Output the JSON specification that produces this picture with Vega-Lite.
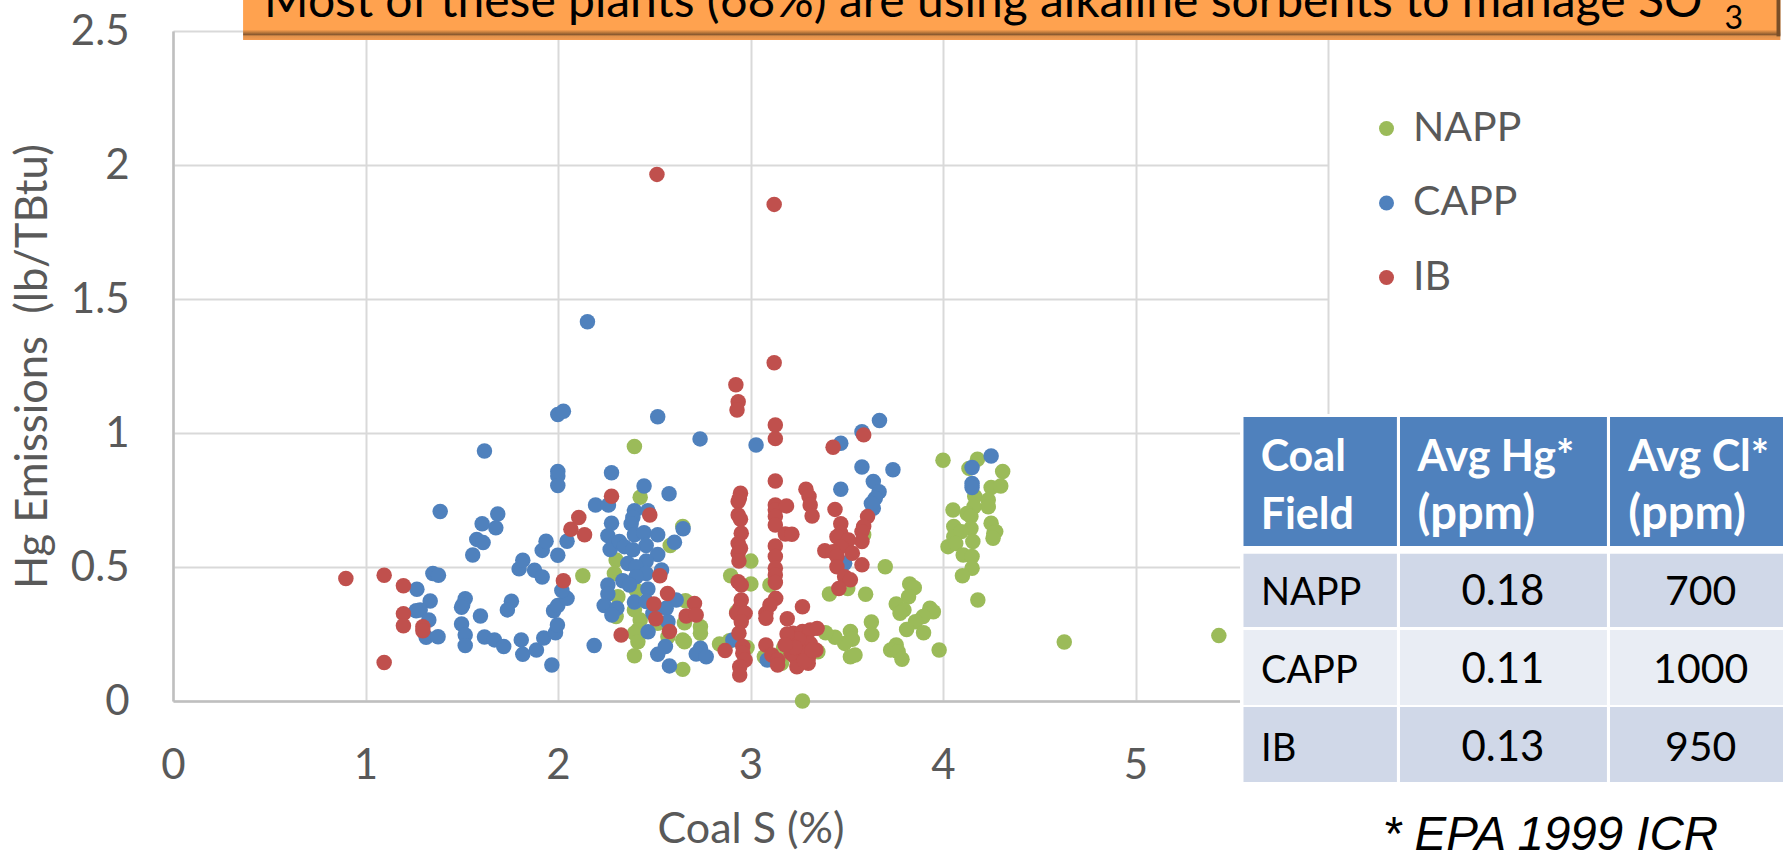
{"$schema":"https://vega.github.io/schema/vega-lite/v6.json","width":1155,"height":670,"autosize":{"type":"none"},"padding":{"left":173,"top":31,"right":455,"bottom":151},"background":"white","config":{"view":{"stroke":null},"font":"Lato"},
"datasets":{"one":[{"k":1}],"points":[
{"f":"NAPP","s":2.397,"hg":0.95},{"f":"NAPP","s":2.427,"hg":0.76},{"f":"NAPP","s":2.648,"hg":0.651},{"f":"NAPP","s":2.583,"hg":0.58},{"f":"NAPP","s":2.129,"hg":0.467},{"f":"NAPP","s":2.302,"hg":0.526},{"f":"NAPP","s":2.293,"hg":0.476},{"f":"NAPP","s":2.406,"hg":0.414},{"f":"NAPP","s":2.311,"hg":0.389},{"f":"NAPP","s":2.302,"hg":0.315},{"f":"NAPP","s":2.397,"hg":0.34},{"f":"NAPP","s":2.427,"hg":0.302},{"f":"NAPP","s":2.662,"hg":0.374},{"f":"NAPP","s":2.657,"hg":0.292},{"f":"NAPP","s":2.74,"hg":0.277},{"f":"NAPP","s":2.74,"hg":0.253},{"f":"NAPP","s":2.415,"hg":0.265},{"f":"NAPP","s":2.397,"hg":0.253},{"f":"NAPP","s":2.415,"hg":0.221},{"f":"NAPP","s":2.518,"hg":0.29},{"f":"NAPP","s":2.571,"hg":0.24},{"f":"NAPP","s":2.648,"hg":0.228},{"f":"NAPP","s":2.657,"hg":0.221},{"f":"NAPP","s":2.397,"hg":0.169},{"f":"NAPP","s":2.648,"hg":0.118},{"f":"NAPP","s":2.839,"hg":0.213},{"f":"NAPP","s":2.891,"hg":0.225},
{"f":"NAPP","s":3.002,"hg":0.522},{"f":"NAPP","s":2.897,"hg":0.467},{"f":"NAPP","s":3.002,"hg":0.437},{"f":"NAPP","s":3.101,"hg":0.433},{"f":"NAPP","s":2.928,"hg":0.332},{"f":"NAPP","s":2.982,"hg":0.2},{"f":"NAPP","s":3.072,"hg":0.165},{"f":"NAPP","s":3.171,"hg":0.197},{"f":"NAPP","s":3.161,"hg":0.141},{"f":"NAPP","s":3.35,"hg":0.184},{"f":"NAPP","s":3.27,"hg":0},{"f":"NAPP","s":4.0,"hg":0.898},{"f":"NAPP","s":4.179,"hg":0.902},{"f":"NAPP","s":4.135,"hg":0.868},{"f":"NAPP","s":4.31,"hg":0.856},{"f":"NAPP","s":4.25,"hg":0.797},{"f":"NAPP","s":4.3,"hg":0.802},{"f":"NAPP","s":4.165,"hg":0.763},{"f":"NAPP","s":4.235,"hg":0.75},{"f":"NAPP","s":4.235,"hg":0.725},{"f":"NAPP","s":4.161,"hg":0.725},{"f":"NAPP","s":4.052,"hg":0.713},{"f":"NAPP","s":4.125,"hg":0.7},{"f":"NAPP","s":4.145,"hg":0.688},{"f":"NAPP","s":4.25,"hg":0.663},{"f":"NAPP","s":4.274,"hg":0.632},{"f":"NAPP","s":4.264,"hg":0.626},{"f":"NAPP","s":4.26,"hg":0.607},{"f":"NAPP","s":4.056,"hg":0.651},{"f":"NAPP","s":4.056,"hg":0.613},{"f":"NAPP","s":4.145,"hg":0.644},{"f":"NAPP","s":4.095,"hg":0.632},{"f":"NAPP","s":4.026,"hg":0.576},{"f":"NAPP","s":4.066,"hg":0.588},{"f":"NAPP","s":4.155,"hg":0.595},{"f":"NAPP","s":4.105,"hg":0.545},{"f":"NAPP","s":4.151,"hg":0.539},{"f":"NAPP","s":4.151,"hg":0.495},{"f":"NAPP","s":4.101,"hg":0.467},{"f":"NAPP","s":3.7,"hg":0.501},{"f":"NAPP","s":3.827,"hg":0.437},{"f":"NAPP","s":3.851,"hg":0.423},{"f":"NAPP","s":3.821,"hg":0.389},{"f":"NAPP","s":3.757,"hg":0.362},{"f":"NAPP","s":3.797,"hg":0.34},{"f":"NAPP","s":3.777,"hg":0.327},{"f":"NAPP","s":3.932,"hg":0.346},{"f":"NAPP","s":3.95,"hg":0.333},{"f":"NAPP","s":3.897,"hg":0.315},{"f":"NAPP","s":3.857,"hg":0.296},{"f":"NAPP","s":3.811,"hg":0.267},{"f":"NAPP","s":3.899,"hg":0.255},{"f":"NAPP","s":3.628,"hg":0.295},{"f":"NAPP","s":3.63,"hg":0.248},{"f":"NAPP","s":3.519,"hg":0.259},{"f":"NAPP","s":3.529,"hg":0.23},{"f":"NAPP","s":3.489,"hg":0.215},{"f":"NAPP","s":3.439,"hg":0.238},{"f":"NAPP","s":3.39,"hg":0.255},{"f":"NAPP","s":3.98,"hg":0.19},{"f":"NAPP","s":3.757,"hg":0.209},{"f":"NAPP","s":3.728,"hg":0.19},{"f":"NAPP","s":3.767,"hg":0.184},{"f":"NAPP","s":3.787,"hg":0.156},{"f":"NAPP","s":3.519,"hg":0.165},{"f":"NAPP","s":3.543,"hg":0.172},{"f":"NAPP","s":3.598,"hg":0.398},{"f":"NAPP","s":3.41,"hg":0.399},{"f":"NAPP","s":3.505,"hg":0.42},{"f":"NAPP","s":3.588,"hg":0.62},{"f":"NAPP","s":4.181,"hg":0.377},{"f":"NAPP","s":4.63,"hg":0.22},{"f":"NAPP","s":5.433,"hg":0.244},
{"f":"CAPP","s":2.153,"hg":1.415},{"f":"CAPP","s":1.618,"hg":0.933},{"f":"CAPP","s":1.388,"hg":0.707},{"f":"CAPP","s":1.687,"hg":0.698},{"f":"CAPP","s":1.606,"hg":0.661},{"f":"CAPP","s":1.677,"hg":0.646},{"f":"CAPP","s":1.578,"hg":0.603},{"f":"CAPP","s":1.611,"hg":0.591},{"f":"CAPP","s":1.557,"hg":0.545},{"f":"CAPP","s":1.35,"hg":0.476},{"f":"CAPP","s":1.379,"hg":0.469},{"f":"CAPP","s":1.267,"hg":0.417},{"f":"CAPP","s":1.336,"hg":0.373},{"f":"CAPP","s":1.284,"hg":0.34},{"f":"CAPP","s":1.263,"hg":0.337},{"f":"CAPP","s":1.329,"hg":0.302},{"f":"CAPP","s":1.315,"hg":0.238},{"f":"CAPP","s":1.377,"hg":0.24},{"f":"CAPP","s":1.518,"hg":0.382},{"f":"CAPP","s":1.505,"hg":0.358},{"f":"CAPP","s":1.499,"hg":0.35},{"f":"CAPP","s":1.597,"hg":0.317},{"f":"CAPP","s":1.499,"hg":0.287},{"f":"CAPP","s":1.518,"hg":0.246},{"f":"CAPP","s":1.518,"hg":0.207},{"f":"CAPP","s":1.618,"hg":0.239},{"f":"CAPP","s":1.67,"hg":0.228},{"f":"CAPP","s":1.718,"hg":0.203},{"f":"CAPP","s":1.758,"hg":0.372},{"f":"CAPP","s":1.737,"hg":0.34},{"f":"CAPP","s":1.809,"hg":0.228},{"f":"CAPP","s":1.817,"hg":0.174},{"f":"CAPP","s":1.888,"hg":0.19},{"f":"CAPP","s":1.926,"hg":0.235},{"f":"CAPP","s":1.968,"hg":0.134},{"f":"CAPP","s":1.987,"hg":0.255},{"f":"CAPP","s":1.997,"hg":0.284},{"f":"CAPP","s":1.977,"hg":0.337},{"f":"CAPP","s":1.999,"hg":0.356},{"f":"CAPP","s":2.047,"hg":0.383},{"f":"CAPP","s":2.02,"hg":0.412},{"f":"CAPP","s":1.798,"hg":0.493},{"f":"CAPP","s":1.817,"hg":0.525},{"f":"CAPP","s":1.878,"hg":0.488},{"f":"CAPP","s":1.918,"hg":0.463},{"f":"CAPP","s":1.918,"hg":0.562},{"f":"CAPP","s":1.938,"hg":0.596},{"f":"CAPP","s":1.999,"hg":0.544},{"f":"CAPP","s":2.047,"hg":0.596},{"f":"CAPP","s":1.999,"hg":0.856},{"f":"CAPP","s":1.999,"hg":0.84},{"f":"CAPP","s":1.999,"hg":0.804},{"f":"CAPP","s":1.999,"hg":1.069},{"f":"CAPP","s":2.028,"hg":1.081},{"f":"CAPP","s":2.518,"hg":1.061},{"f":"CAPP","s":2.738,"hg":0.978},{"f":"CAPP","s":3.029,"hg":0.955},{"f":"CAPP","s":2.188,"hg":0.207},{"f":"CAPP","s":2.278,"hg":0.852},{"f":"CAPP","s":2.195,"hg":0.731},{"f":"CAPP","s":2.262,"hg":0.731},{"f":"CAPP","s":2.447,"hg":0.802},{"f":"CAPP","s":2.577,"hg":0.773},{"f":"CAPP","s":2.397,"hg":0.71},{"f":"CAPP","s":2.467,"hg":0.71},{"f":"CAPP","s":2.389,"hg":0.685},{"f":"CAPP","s":2.38,"hg":0.661},{"f":"CAPP","s":2.278,"hg":0.663},{"f":"CAPP","s":2.259,"hg":0.617},{"f":"CAPP","s":2.293,"hg":0.588},{"f":"CAPP","s":2.271,"hg":0.565},{"f":"CAPP","s":2.319,"hg":0.595},{"f":"CAPP","s":2.345,"hg":0.576},{"f":"CAPP","s":2.397,"hg":0.62},{"f":"CAPP","s":2.447,"hg":0.628},{"f":"CAPP","s":2.518,"hg":0.62},{"f":"CAPP","s":2.605,"hg":0.592},{"f":"CAPP","s":2.65,"hg":0.643},{"f":"CAPP","s":2.458,"hg":0.58},{"f":"CAPP","s":2.389,"hg":0.564},{"f":"CAPP","s":2.518,"hg":0.547},{"f":"CAPP","s":2.458,"hg":0.522},{"f":"CAPP","s":2.363,"hg":0.513},{"f":"CAPP","s":2.406,"hg":0.501},{"f":"CAPP","s":2.538,"hg":0.489},{"f":"CAPP","s":2.458,"hg":0.476},{"f":"CAPP","s":2.406,"hg":0.464},{"f":"CAPP","s":2.337,"hg":0.449},{"f":"CAPP","s":2.371,"hg":0.433},{"f":"CAPP","s":2.467,"hg":0.418},{"f":"CAPP","s":2.259,"hg":0.433},{"f":"CAPP","s":2.259,"hg":0.399},{"f":"CAPP","s":2.24,"hg":0.356},{"f":"CAPP","s":2.306,"hg":0.346},{"f":"CAPP","s":2.28,"hg":0.321},{"f":"CAPP","s":2.397,"hg":0.369},{"f":"CAPP","s":2.458,"hg":0.371},{"f":"CAPP","s":2.614,"hg":0.377},{"f":"CAPP","s":2.562,"hg":0.346},{"f":"CAPP","s":2.493,"hg":0.327},{"f":"CAPP","s":2.571,"hg":0.296},{"f":"CAPP","s":2.468,"hg":0.258},{"f":"CAPP","s":2.558,"hg":0.203},{"f":"CAPP","s":2.518,"hg":0.174},{"f":"CAPP","s":2.579,"hg":0.131},{"f":"CAPP","s":2.74,"hg":0.197},{"f":"CAPP","s":2.718,"hg":0.175},{"f":"CAPP","s":2.77,"hg":0.165},{"f":"CAPP","s":2.908,"hg":0.228},{"f":"CAPP","s":3.087,"hg":0.153},{"f":"CAPP","s":3.469,"hg":0.962},{"f":"CAPP","s":3.579,"hg":1.005},{"f":"CAPP","s":3.67,"hg":1.047},{"f":"CAPP","s":3.579,"hg":0.873},{"f":"CAPP","s":3.74,"hg":0.863},{"f":"CAPP","s":3.638,"hg":0.819},{"f":"CAPP","s":3.668,"hg":0.781},{"f":"CAPP","s":3.648,"hg":0.756},{"f":"CAPP","s":3.638,"hg":0.719},{"f":"CAPP","s":3.628,"hg":0.737},{"f":"CAPP","s":3.469,"hg":0.79},{"f":"CAPP","s":4.151,"hg":0.871},{"f":"CAPP","s":4.25,"hg":0.914},{"f":"CAPP","s":4.151,"hg":0.812},{"f":"CAPP","s":4.151,"hg":0.797},{"f":"CAPP","s":3.489,"hg":0.514},
{"f":"IB","s":2.514,"hg":1.965},{"f":"IB","s":3.123,"hg":1.853},{"f":"IB","s":3.123,"hg":1.262},{"f":"IB","s":2.924,"hg":1.18},{"f":"IB","s":0.898,"hg":0.457},{"f":"IB","s":1.097,"hg":0.469},{"f":"IB","s":1.197,"hg":0.43},{"f":"IB","s":1.197,"hg":0.326},{"f":"IB","s":1.197,"hg":0.281},{"f":"IB","s":1.298,"hg":0.277},{"f":"IB","s":1.298,"hg":0.262},{"f":"IB","s":1.097,"hg":0.144},{"f":"IB","s":2.028,"hg":0.449},{"f":"IB","s":2.108,"hg":0.685},{"f":"IB","s":2.067,"hg":0.641},{"f":"IB","s":2.138,"hg":0.62},{"f":"IB","s":2.278,"hg":0.764},{"f":"IB","s":2.477,"hg":0.694},{"f":"IB","s":2.529,"hg":0.467},{"f":"IB","s":2.569,"hg":0.401},{"f":"IB","s":2.498,"hg":0.362},{"f":"IB","s":2.508,"hg":0.307},{"f":"IB","s":2.328,"hg":0.246},{"f":"IB","s":2.579,"hg":0.259},{"f":"IB","s":2.709,"hg":0.364},{"f":"IB","s":2.666,"hg":0.317},{"f":"IB","s":2.718,"hg":0.321},{"f":"IB","s":2.868,"hg":0.188},{"f":"IB","s":2.936,"hg":1.117},{"f":"IB","s":2.93,"hg":1.086},{"f":"IB","s":2.948,"hg":0.775},{"f":"IB","s":2.942,"hg":0.756},{"f":"IB","s":2.936,"hg":0.744},{"f":"IB","s":2.936,"hg":0.694},{"f":"IB","s":2.948,"hg":0.678},{"f":"IB","s":2.952,"hg":0.626},{"f":"IB","s":2.936,"hg":0.588},{"f":"IB","s":2.948,"hg":0.57},{"f":"IB","s":2.936,"hg":0.551},{"f":"IB","s":2.94,"hg":0.522},{"f":"IB","s":2.936,"hg":0.445},{"f":"IB","s":2.952,"hg":0.433},{"f":"IB","s":2.952,"hg":0.377},{"f":"IB","s":2.944,"hg":0.346},{"f":"IB","s":2.928,"hg":0.327},{"f":"IB","s":2.972,"hg":0.327},{"f":"IB","s":2.952,"hg":0.296},{"f":"IB","s":2.94,"hg":0.253},{"f":"IB","s":2.96,"hg":0.203},{"f":"IB","s":2.96,"hg":0.178},{"f":"IB","s":2.972,"hg":0.153},{"f":"IB","s":2.944,"hg":0.128},{"f":"IB","s":2.944,"hg":0.097},{"f":"IB","s":3.129,"hg":1.03},{"f":"IB","s":3.129,"hg":0.979},{"f":"IB","s":3.129,"hg":0.821},{"f":"IB","s":3.129,"hg":0.731},{"f":"IB","s":3.129,"hg":0.713},{"f":"IB","s":3.187,"hg":0.728},{"f":"IB","s":3.129,"hg":0.688},{"f":"IB","s":3.129,"hg":0.657},{"f":"IB","s":3.181,"hg":0.623},{"f":"IB","s":3.215,"hg":0.622},{"f":"IB","s":3.129,"hg":0.578},{"f":"IB","s":3.129,"hg":0.539},{"f":"IB","s":3.129,"hg":0.495},{"f":"IB","s":3.129,"hg":0.47},{"f":"IB","s":3.129,"hg":0.442},{"f":"IB","s":3.288,"hg":0.79},{"f":"IB","s":3.304,"hg":0.763},{"f":"IB","s":3.31,"hg":0.731},{"f":"IB","s":3.32,"hg":0.69},{"f":"IB","s":3.131,"hg":0.383},{"f":"IB","s":3.101,"hg":0.358},{"f":"IB","s":3.08,"hg":0.327},{"f":"IB","s":3.08,"hg":0.309},{"f":"IB","s":3.191,"hg":0.307},{"f":"IB","s":3.27,"hg":0.352},{"f":"IB","s":3.08,"hg":0.209},{"f":"IB","s":3.111,"hg":0.172},{"f":"IB","s":3.141,"hg":0.153},{"f":"IB","s":3.141,"hg":0.134},{"f":"IB","s":3.221,"hg":0.253},{"f":"IB","s":3.27,"hg":0.259},{"f":"IB","s":3.31,"hg":0.265},{"f":"IB","s":3.346,"hg":0.271},{"f":"IB","s":3.211,"hg":0.228},{"f":"IB","s":3.27,"hg":0.221},{"f":"IB","s":3.211,"hg":0.197},{"f":"IB","s":3.27,"hg":0.197},{"f":"IB","s":3.34,"hg":0.19},{"f":"IB","s":3.231,"hg":0.165},{"f":"IB","s":3.3,"hg":0.159},{"f":"IB","s":3.241,"hg":0.128},{"f":"IB","s":3.3,"hg":0.141},{"f":"IB","s":3.211,"hg":0.178},{"f":"IB","s":3.31,"hg":0.215},{"f":"IB","s":3.25,"hg":0.23},{"f":"IB","s":3.29,"hg":0.18},{"f":"IB","s":3.19,"hg":0.25},{"f":"IB","s":3.23,"hg":0.2},{"f":"IB","s":3.28,"hg":0.15},{"f":"IB","s":3.32,"hg":0.19},{"f":"IB","s":3.18,"hg":0.21},{"f":"IB","s":3.429,"hg":0.947},{"f":"IB","s":3.588,"hg":0.993},{"f":"IB","s":3.439,"hg":0.715},{"f":"IB","s":3.469,"hg":0.661},{"f":"IB","s":3.608,"hg":0.688},{"f":"IB","s":3.588,"hg":0.651},{"f":"IB","s":3.579,"hg":0.632},{"f":"IB","s":3.469,"hg":0.626},{"f":"IB","s":3.449,"hg":0.613},{"f":"IB","s":3.579,"hg":0.595},{"f":"IB","s":3.509,"hg":0.601},{"f":"IB","s":3.469,"hg":0.576},{"f":"IB","s":3.386,"hg":0.561},{"f":"IB","s":3.429,"hg":0.557},{"f":"IB","s":3.529,"hg":0.551},{"f":"IB","s":3.449,"hg":0.539},{"f":"IB","s":3.449,"hg":0.501},{"f":"IB","s":3.579,"hg":0.508},{"f":"IB","s":3.489,"hg":0.464},{"f":"IB","s":3.519,"hg":0.452},{"f":"IB","s":3.459,"hg":0.42}
]},
"layer":[
{"data":{"name":"points"},"mark":{"type":"circle","size":240,"opacity":1},"encoding":{
"x":{"field":"s","type":"quantitative","title":"Coal S (%)","scale":{"domain":[0,6],"nice":false,"zero":false},"axis":{"values":[0,1,2,3,4,5,6],"format":"d","grid":true,"gridColor":"#D9D9D9","gridWidth":2,"domainColor":"#BFBFBF","domainWidth":2.5,"ticks":false,"labelFlush":false,"labelFontSize":42,"labelColor":"#595959","labelPadding":44,"labelFont":"Lato","titleFont":"Lato","titleFontWeight":"normal","titleFontSize":43,"titleColor":"#595959","titlePadding":22}},
"y":{"field":"hg","type":"quantitative","title":"Hg Emissions\u00a0 (lb/TBtu)","scale":{"domain":[0,2.5],"nice":false,"zero":false},"axis":{"values":[0,0.5,1,1.5,2,2.5],"format":"~g","grid":true,"gridColor":"#D9D9D9","gridWidth":2,"domainColor":"#BFBFBF","domainWidth":2.5,"ticks":false,"labelFlush":false,"labelFontSize":42,"labelColor":"#595959","labelPadding":44,"labelFont":"Lato","titleFont":"Lato","titleFontWeight":"normal","titleFontSize":43.5,"titleColor":"#595959","titlePadding":15}},
"color":{"field":"f","type":"nominal","scale":{"domain":["NAPP","CAPP","IB"],"range":["#9BBB59","#4F81BD","#C0504D"]},"legend":{"title":null,"orient":"none","legendX":1193,"legendY":77,"padding":0,"symbolType":"circle","symbolSize":225,"symbolStrokeWidth":0,"labelFontSize":41,"labelColor":"#595959","labelFont":"Lato","labelOffset":6,"rowPadding":32.5,"labelLimit":300}}}},
{"data":{"name":"one"},"mark":{"type":"rect","color":"white"},"encoding":{"x":{"datum":5.543},"x2":{"datum":8.364},"y":{"datum":1.071},"y2":{"datum":-0.313}}},
{"data":{"name":"one"},"mark":{"type":"rect","color":"#4F81BD"},"encoding":{"x":{"datum":5.561},"x2":{"datum":6.358},"y":{"datum":1.06},"y2":{"datum":0.578}}},
{"data":{"name":"one"},"mark":{"type":"rect","color":"#4F81BD"},"encoding":{"x":{"datum":6.374},"x2":{"datum":7.449},"y":{"datum":1.06},"y2":{"datum":0.578}}},
{"data":{"name":"one"},"mark":{"type":"rect","color":"#4F81BD"},"encoding":{"x":{"datum":7.465},"x2":{"datum":8.364},"y":{"datum":1.06},"y2":{"datum":0.578}}},
{"data":{"name":"one"},"mark":{"type":"rect","color":"#D0D8E8"},"encoding":{"x":{"datum":5.561},"x2":{"datum":6.358},"y":{"datum":0.549},"y2":{"datum":0.276}}},
{"data":{"name":"one"},"mark":{"type":"rect","color":"#D0D8E8"},"encoding":{"x":{"datum":6.374},"x2":{"datum":7.449},"y":{"datum":0.549},"y2":{"datum":0.276}}},
{"data":{"name":"one"},"mark":{"type":"rect","color":"#D0D8E8"},"encoding":{"x":{"datum":7.465},"x2":{"datum":8.364},"y":{"datum":0.549},"y2":{"datum":0.276}}},
{"data":{"name":"one"},"mark":{"type":"rect","color":"#E9EDF4"},"encoding":{"x":{"datum":5.561},"x2":{"datum":6.358},"y":{"datum":0.265},"y2":{"datum":-0.015}}},
{"data":{"name":"one"},"mark":{"type":"rect","color":"#E9EDF4"},"encoding":{"x":{"datum":6.374},"x2":{"datum":7.449},"y":{"datum":0.265},"y2":{"datum":-0.015}}},
{"data":{"name":"one"},"mark":{"type":"rect","color":"#E9EDF4"},"encoding":{"x":{"datum":7.465},"x2":{"datum":8.364},"y":{"datum":0.265},"y2":{"datum":-0.015}}},
{"data":{"name":"one"},"mark":{"type":"rect","color":"#D0D8E8"},"encoding":{"x":{"datum":5.561},"x2":{"datum":6.358},"y":{"datum":-0.022},"y2":{"datum":-0.302}}},
{"data":{"name":"one"},"mark":{"type":"rect","color":"#D0D8E8"},"encoding":{"x":{"datum":6.374},"x2":{"datum":7.449},"y":{"datum":-0.022},"y2":{"datum":-0.302}}},
{"data":{"name":"one"},"mark":{"type":"rect","color":"#D0D8E8"},"encoding":{"x":{"datum":7.465},"x2":{"datum":8.364},"y":{"datum":-0.022},"y2":{"datum":-0.302}}},
{"data":{"name":"one"},"mark":{"type":"text","text":"Coal","font":"Lato","fontWeight":"bold","fontSize":43,"color":"white","align":"left","baseline":"alphabetic"},"encoding":{"x":{"datum":5.65},"y":{"datum":0.858}}},
{"data":{"name":"one"},"mark":{"type":"text","text":"Field","font":"Lato","fontWeight":"bold","fontSize":43,"color":"white","align":"left","baseline":"alphabetic"},"encoding":{"x":{"datum":5.65},"y":{"datum":0.642}}},
{"data":{"name":"one"},"mark":{"type":"text","text":"Avg Hg*","font":"Lato","fontWeight":"bold","fontSize":43,"color":"white","align":"left","baseline":"alphabetic"},"encoding":{"x":{"datum":6.465},"y":{"datum":0.858}}},
{"data":{"name":"one"},"mark":{"type":"text","text":"(ppm)","font":"Lato","fontWeight":"bold","fontSize":47,"color":"white","align":"left","baseline":"alphabetic"},"encoding":{"x":{"datum":6.465},"y":{"datum":0.642}}},
{"data":{"name":"one"},"mark":{"type":"text","text":"Avg Cl*","font":"Lato","fontWeight":"bold","fontSize":43,"color":"white","align":"left","baseline":"alphabetic"},"encoding":{"x":{"datum":7.56},"y":{"datum":0.858}}},
{"data":{"name":"one"},"mark":{"type":"text","text":"(ppm)","font":"Lato","fontWeight":"bold","fontSize":47,"color":"white","align":"left","baseline":"alphabetic"},"encoding":{"x":{"datum":7.56},"y":{"datum":0.642}}},
{"data":{"name":"one"},"mark":{"type":"text","text":"NAPP","font":"Lato","fontSize":38,"color":"black","align":"left","baseline":"alphabetic"},"encoding":{"x":{"datum":5.652},"y":{"datum":0.358}}},
{"data":{"name":"one"},"mark":{"type":"text","text":"0.18","font":"Lato","fontSize":42,"color":"black","align":"center","baseline":"alphabetic"},"encoding":{"x":{"datum":6.909},"y":{"datum":0.358}}},
{"data":{"name":"one"},"mark":{"type":"text","text":"700","font":"Lato","fontSize":41,"color":"black","align":"center","baseline":"alphabetic"},"encoding":{"x":{"datum":7.936},"y":{"datum":0.358}}},
{"data":{"name":"one"},"mark":{"type":"text","text":"CAPP","font":"Lato","fontSize":38,"color":"black","align":"left","baseline":"alphabetic"},"encoding":{"x":{"datum":5.652},"y":{"datum":0.067}}},
{"data":{"name":"one"},"mark":{"type":"text","text":"0.11","font":"Lato","fontSize":42,"color":"black","align":"center","baseline":"alphabetic"},"encoding":{"x":{"datum":6.909},"y":{"datum":0.067}}},
{"data":{"name":"one"},"mark":{"type":"text","text":"1000","font":"Lato","fontSize":41,"color":"black","align":"center","baseline":"alphabetic"},"encoding":{"x":{"datum":7.936},"y":{"datum":0.067}}},
{"data":{"name":"one"},"mark":{"type":"text","text":"IB","font":"Lato","fontSize":38,"color":"black","align":"left","baseline":"alphabetic"},"encoding":{"x":{"datum":5.652},"y":{"datum":-0.224}}},
{"data":{"name":"one"},"mark":{"type":"text","text":"0.13","font":"Lato","fontSize":42,"color":"black","align":"center","baseline":"alphabetic"},"encoding":{"x":{"datum":6.909},"y":{"datum":-0.224}}},
{"data":{"name":"one"},"mark":{"type":"text","text":"950","font":"Lato","fontSize":41,"color":"black","align":"center","baseline":"alphabetic"},"encoding":{"x":{"datum":7.936},"y":{"datum":-0.224}}},
{"data":{"name":"one"},"mark":{"type":"text","text":"* EPA 1999 ICR","font":"Liberation Sans","fontStyle":"italic","fontSize":47.5,"color":"black","align":"left","baseline":"alphabetic"},"encoding":{"x":{"datum":6.285},"y":{"datum":-0.556}}},
{"data":{"name":"one"},"mark":{"type":"rect","color":{"gradient":"linear","x1":0,"y1":0,"x2":0,"y2":1,"stops":[{"offset":0,"color":"#FFA24F"},{"offset":0.74,"color":"#FFA24F"},{"offset":0.8,"color":"#C67F3E"},{"offset":0.86,"color":"#8B5A2F"},{"offset":0.9,"color":"#E0914B"},{"offset":1,"color":"#F59C50"}]}},"encoding":{"x":{"datum":0.364},"x2":{"datum":8.35},"y":{"datum":2.616},"y2":{"datum":2.466}}},
{"data":{"name":"one"},"mark":{"type":"rect","color":"#7A4F28"},"encoding":{"x":{"datum":8.33},"x2":{"datum":8.35},"y":{"datum":2.616},"y2":{"datum":2.48}}},
{"data":{"name":"one"},"mark":{"type":"text","text":"Most of these plants (68%) are using alkaline sorbents to manage SO","font":"Lato","fontSize":48,"color":"black","align":"left","baseline":"alphabetic"},"encoding":{"x":{"datum":0.473},"y":{"datum":2.552}}},
{"data":{"name":"one"},"mark":{"type":"text","text":"3","font":"Lato","fontSize":32,"color":"black","align":"left","baseline":"alphabetic"},"encoding":{"x":{"datum":8.06},"y":{"datum":2.507}}}
]}
